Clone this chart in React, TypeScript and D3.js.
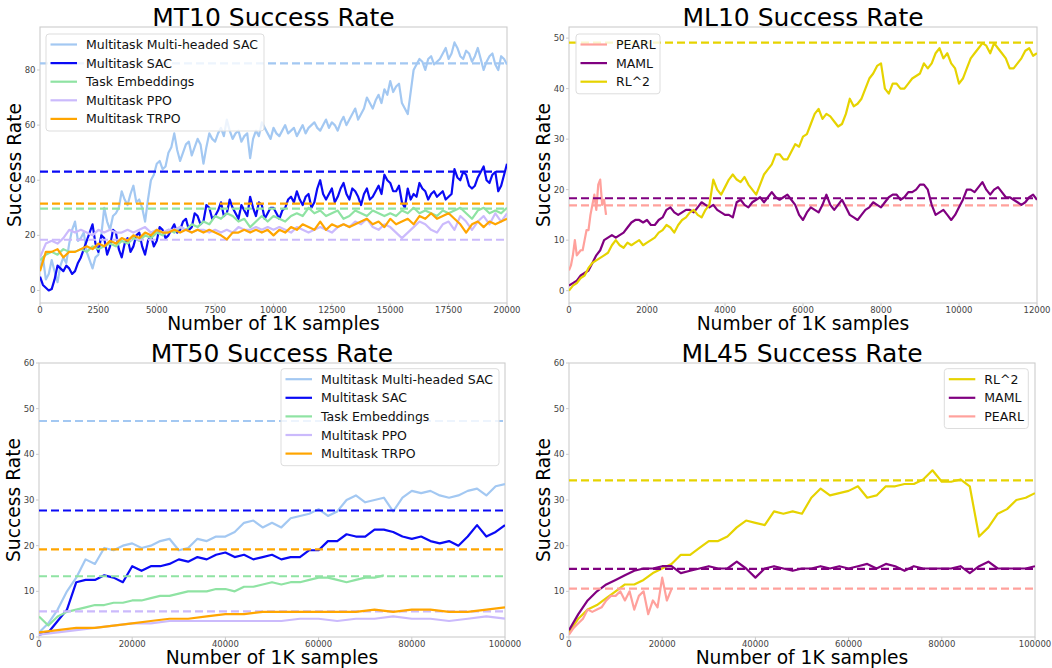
import React from "react";
import * as d3 from "d3";

const FONT = "'DejaVu Sans', Verdana, sans-serif";

// ---------- MT10 ----------
const mt10Names = ["Multitask Multi-headed SAC", "Multitask SAC", "Task Embeddings", "Multitask PPO", "Multitask TRPO"];
const mt10Colors = ["#a3c8f2", "#0a0af5", "#8fe3a3", "#cbbafc", "#ffa500"];
const mt10Final = [82.4, 43.1, 29.7, 18.4, 31.5];
const mt10XTicks = [0, 2500, 5000, 7500, 10000, 12500, 15000, 17500, 20000];
const mt10YTicks = [0, 20, 40, 60, 80];
const mt10MhSac = [8, 12, 4, 6, 11, 7, 3, 9, 12, 10, 17, 22, 25, 18, 19, 21, 14, 11, 8, 12, 13, 20, 30, 25, 22, 27, 28, 30, 36, 33, 31, 35, 38, 32, 33, 30, 25, 33, 40, 42, 46, 47, 44, 45, 50, 52, 57, 51, 47, 50, 53, 54, 49, 52, 55, 53, 46, 52, 57, 55, 54, 57, 59, 56, 62, 58, 55, 57, 58, 54, 56, 57, 48, 55, 58, 56, 61, 59, 57, 55, 59, 57, 56, 58, 60, 57, 58, 59, 56, 58, 60, 57, 59, 60, 61, 59, 58, 60, 62, 59, 61, 60, 58, 61, 63, 60, 62, 64, 66, 62, 64, 66, 70, 68, 66, 69, 71, 68, 73, 71, 76, 72, 74, 75, 68, 66, 64, 72, 80, 82, 84, 83, 80, 84, 85, 82, 83, 84, 86, 88, 84, 86, 90, 88, 85, 84, 87, 86, 83, 85, 88, 84, 80, 83, 85, 86, 82, 80, 85, 84, 82];
const mt10Sac = [5, 2, 1, 0, 0.5, 4, 9, 8, 7, 9, 8, 6, 7, 10, 12, 15, 18, 21, 24, 17, 14, 20, 19, 13, 16, 22, 21, 15, 12, 17, 19, 14, 16, 20, 21, 16, 13, 18, 20, 16, 18, 23, 22, 19, 20, 22, 24, 21, 22, 25, 26, 22, 23, 28, 27, 24, 25, 31, 30, 26, 27, 29, 32, 27, 28, 33, 30, 28, 26, 31, 29, 27, 34, 30, 27, 32, 31, 26, 28, 30, 30, 28, 26, 29, 30, 33, 34, 32, 36, 33, 31, 34, 35, 30, 32, 37, 40, 35, 33, 35, 37, 32, 34, 37, 39, 35, 33, 37, 36, 34, 31, 35, 37, 33, 34, 36, 38, 35, 42, 40, 39, 36, 36, 38, 32, 30, 37, 33, 35, 34, 39, 37, 36, 33, 35, 36, 34, 35, 36, 33, 34, 35, 44, 41, 40, 43, 42, 38, 37, 38, 41, 43, 45, 40, 39, 42, 43, 36, 38, 42, 46];
const mt10TaskEmb = [11, 13, 14, 13, 15, 14, 14, 15, 14, 16, 15, 16, 17, 16, 18, 17, 19, 18, 20, 19, 21, 20, 22, 21, 23, 22, 24, 23, 25, 24, 27, 26, 28, 27, 25, 26, 23, 25, 27, 25, 27, 26, 25, 27, 28, 27, 30, 28, 29, 27, 28, 29, 26, 27, 29, 28, 27, 29, 28, 27, 28, 27, 29, 28, 30, 28, 29, 28, 27, 29, 28, 29, 30, 28, 26, 29, 30, 28, 29, 28, 30];
const mt10Ppo = [12, 17, 18, 17, 19, 22, 21, 22, 21, 20, 22, 21, 22, 21, 21, 22, 21, 22, 23, 21, 22, 21, 22, 22, 23, 22, 21, 22, 22, 21, 22, 21, 22, 21, 23, 22, 22, 23, 22, 23, 22, 23, 22, 21, 23, 22, 21, 22, 23, 22, 21, 23, 24, 23, 25, 24, 26, 23, 22, 24, 23, 21, 19, 21, 23, 25, 24, 22, 21, 24, 25, 22, 27, 25, 22, 25, 27, 24, 28, 25, 28];
const mt10Trpo = [7, 14, 14, 15, 12, 14, 14, 15, 16, 15, 17, 16, 18, 17, 19, 18, 20, 19, 21, 20, 22, 21, 21, 22, 21, 22, 21, 22, 21, 22, 21, 20, 18.5, 21, 21, 22, 21, 22, 21, 22, 20, 22, 21, 23, 22, 24, 23, 22, 25, 22, 24, 23, 24, 23, 24, 25, 26, 24, 25, 23, 26, 24, 25, 26, 24, 27, 26, 28, 26, 27, 28, 26, 24, 21, 24, 25, 23, 25, 24, 25, 26];

// ---------- ML10 ----------
const ml10Names = ["PEARL", "MAML", "RL^2"];
const ml10Colors = ["#ffa19c", "#800080", "#e6d300"];
const ml10Final = [16.9, 18.3, 49.1];
const ml10XTicks = [0, 2000, 4000, 6000, 8000, 10000, 12000];
const ml10YTicks = [0, 10, 20, 30, 40, 50];
const ml10Pearl = [4, 5, 7, 10, 7, 7.5, 8, 8, 10, 12, 12, 15, 17, 19, 16, 21, 22, 17, 18, 15];
const ml10Maml = [1, 1.5, 2, 3, 3.5, 4, 5.5, 7, 8, 10, 10.5, 11, 10.5, 11, 11.5, 12.5, 13.5, 14, 14, 13.5, 14, 13, 13, 14, 14.5, 16, 16.5, 15.5, 15, 15.5, 16, 16, 15.5, 16.5, 17.5, 17, 16.5, 17, 16, 15.5, 15, 15, 14.5, 17.5, 18, 17, 16.5, 17.5, 18, 18.5, 17.5, 18.5, 19.5, 18.5, 18, 18.5, 19, 18, 17, 15, 14, 15.5, 16.5, 16, 15.5, 17, 19, 17, 16, 17, 18, 16.5, 15, 14.5, 14, 15, 16, 16.5, 17.5, 17, 16.5, 17.5, 18.5, 19, 19, 18, 18.5, 19.5, 19.5, 20, 21, 21, 20, 17, 15, 15.5, 16, 15, 14, 15, 16.5, 18, 20, 20, 19.5, 20.5, 21.5, 20, 19, 20, 20.5, 19.5, 18.5, 18.5, 18, 17.5, 17, 17.5, 18.5, 19, 18];
const ml10Rl2 = [0, 1, 1.5, 2.5, 3, 4.5, 5.5, 6, 6.5, 7, 7.5, 9, 10, 9, 8.5, 9.5, 9, 9.5, 10, 9, 9.5, 10, 10.5, 11.5, 12, 13, 12.5, 11.5, 13, 14, 14.5, 15.5, 16, 15, 14.5, 16, 17, 22, 20, 19, 20.5, 22, 23, 22, 21.5, 22.5, 21, 20, 19, 21, 23, 24, 25, 27, 27, 26, 26, 27.5, 29, 28.5, 30.5, 31, 33, 35, 36, 34, 35, 34.5, 33.5, 32.5, 33, 35, 38, 36.5, 37, 38, 40, 42, 43, 44.5, 45, 40, 39, 41, 41, 40, 40, 41, 42, 42.5, 43, 45, 44, 45, 47, 48, 46, 47, 45, 44, 41, 42, 44, 46, 47, 48, 49, 48.5, 47, 49, 48, 47, 46, 44, 44, 45, 46, 47.5, 48, 46.5, 47];

// ---------- MT50 ----------
const mt50Final = [47.3, 27.7, 13.3, 5.6, 19.2];
const mt50XTicks = [0, 20000, 40000, 60000, 80000, 100000];
const mt50YTicks = [0, 10, 20, 30, 40, 50, 60];
const mt50MhSac = [1, 3, 6, 10, 13, 17, 16, 19.5, 19, 20, 20.5, 19.5, 20, 21, 21.5, 19, 19.5, 21.5, 21, 22, 22, 23, 25, 25.5, 24, 25, 24, 26, 26.5, 27, 28, 26.5, 27.5, 30, 31, 29.5, 30, 30.5, 27.5, 30.5, 32, 31.5, 32, 31, 30.5, 31, 32, 32.5, 31, 33, 33.5];
const mt50Sac = [0.5, 1, 3.5, 6, 12, 12.5, 12.5, 13.5, 13, 12, 15.5, 14.5, 15.5, 15.5, 16, 17, 16.5, 17.5, 17, 18, 18.5, 17.5, 18, 17, 17.5, 18, 17, 17.5, 17.5, 19, 19, 21, 21, 22.5, 22, 22, 23.5, 23.5, 23, 22, 21.5, 22, 21, 20.5, 21, 20, 22, 24.5, 22, 23, 24.5];
const mt50TaskEmb = [4.5, 2.5, 4.5, 5.5, 6, 6.5, 7, 7, 7.5, 7.5, 8, 8, 8.5, 9, 9, 9.5, 10, 10, 10, 10.5, 10.5, 10, 11, 11, 11.5, 12, 11.5, 12, 12, 12.5, 13, 13, 12.5, 12, 12.5, 13, 13, 13.5];
const mt50Ppo = [0.5, 1, 1.5, 2, 2.5, 3, 3, 3.5, 3.5, 3.5, 3.5, 3.5, 3.5, 3.5, 4, 4, 3.5, 4, 4, 4.5, 4, 4, 3.5, 4, 4.5, 4];
const mt50Trpo = [1, 1.5, 2, 2, 2.5, 3, 3.5, 4, 4, 4.5, 5, 5, 5.5, 5.5, 5.5, 5.5, 5.5, 5.5, 6, 5.5, 6, 6, 5.5, 5.5, 6, 6.5];

// ---------- ML45 ----------
const ml45Names = ["RL^2", "MAML", "PEARL"];
const ml45Colors = ["#e6d300", "#800080", "#ffa19c"];
const ml45Final = [34.3, 14.9, 10.6];
const ml45XTicks = [0, 20000, 40000, 60000, 80000, 100000];
const ml45YTicks = [0, 10, 20, 30, 40, 50, 60];
const ml45Rl2 = [1, 4, 6, 7, 8.5, 10, 11.5, 11.5, 12.5, 14, 15, 16, 18, 18, 19.5, 21, 21, 22, 24, 25.5, 25, 24.5, 27.5, 27, 27.5, 27, 30.5, 32.5, 31, 31.5, 32, 33, 30.5, 31, 33, 33, 33.5, 33.5, 34.5, 36.5, 34, 34, 34.5, 33, 22, 24, 27, 28, 30, 30.5, 31.5];
const ml45Maml = [1.5, 5, 8, 10, 11.5, 12.5, 13.5, 14.5, 15, 15, 15.5, 15.5, 14, 14.5, 15, 15.5, 15, 15, 16.5, 15, 13, 15, 15.5, 15, 14.5, 15, 15, 15.5, 15, 15.5, 15, 15.5, 16, 15, 16, 15.5, 14.5, 15.5, 15, 15, 15, 15, 15.5, 14, 15.5, 16.5, 15, 15, 15, 15, 15.5];
const ml45Pearl = [0.5, 2, 3, 4, 6, 5.5, 6, 6.5, 8, 9, 9, 10, 8, 10, 6, 9, 10, 5, 8, 6.5, 13, 8, 10.5];

type Series = { name: string; color: string; values: number[]; xEnd: number; final: number };
type Panel = {
  title: string;
  left: number; right: number; top: number; bottom: number;
  xMax: number; yDomain: [number, number];
  xTicks: number[]; yTicks: number[];
  series: Series[];
  legend: { x: number; y: number; w: number };
};

const mk = (names: string[], colors: string[], vals: number[][], ends: number[], finals: number[]): Series[] =>
  names.map((n, i) => ({ name: n, color: colors[i], values: vals[i], xEnd: ends[i], final: finals[i] }));

const panels: Panel[] = [
  {
    title: "MT10 Success Rate", left: 40, right: 507, top: 27, bottom: 303,
    xMax: 20000, yDomain: [-4.55, 95.6], xTicks: mt10XTicks, yTicks: mt10YTicks,
    series: mk(mt10Names, mt10Colors, [mt10MhSac, mt10Sac, mt10TaskEmb, mt10Ppo, mt10Trpo],
      [20000, 20000, 20000, 20000, 20000], mt10Final),
    legend: { x: 46, y: 34, w: 218 },
  },
  {
    title: "ML10 Success Rate", left: 569, right: 1037, top: 27, bottom: 303,
    xMax: 12000, yDomain: [-2.44, 52.2], xTicks: ml10XTicks, yTicks: ml10YTicks,
    series: mk(ml10Names, ml10Colors, [ml10Pearl, ml10Maml, ml10Rl2], [950, 12000, 12000], ml10Final),
    legend: { x: 576, y: 34, w: 84 },
  },
  {
    title: "MT50 Success Rate", left: 39, right: 505, top: 363, bottom: 637,
    xMax: 100000, yDomain: [0, 60], xTicks: mt50XTicks, yTicks: mt50YTicks,
    series: mk(mt10Names, mt10Colors, [mt50MhSac, mt50Sac, mt50TaskEmb, mt50Ppo, mt50Trpo],
      [100000, 100000, 74000, 100000, 100000], mt50Final),
    legend: { x: 281, y: 368.7, w: 218 },
  },
  {
    title: "ML45 Success Rate", left: 569, right: 1035, top: 363, bottom: 637,
    xMax: 100000, yDomain: [0, 60], xTicks: ml45XTicks, yTicks: ml45YTicks,
    series: mk(ml45Names, ml45Colors, [ml45Rl2, ml45Maml, ml45Pearl], [100000, 100000, 22000], ml45Final),
    legend: { x: 944.3, y: 368.7, w: 84 },
  },
];

function PanelView({ p, idx }: { p: Panel; idx: number }) {
  const x = d3.scaleLinear().domain([0, p.xMax]).range([p.left, p.right]);
  const y = d3.scaleLinear().domain(p.yDomain).range([p.bottom, p.top]);
  const cx = (p.left + p.right) / 2;
  const cy = (p.top + p.bottom) / 2;
  const clipId = `clip${idx}`;
  const rowH = 18.6;
  return (
    <g>
      <defs>
        <clipPath id={clipId}>
          <rect x={p.left} y={p.top} width={p.right - p.left} height={p.bottom - p.top} />
        </clipPath>
      </defs>
      <rect x={p.left} y={p.top} width={p.right - p.left} height={p.bottom - p.top} fill="#fff" stroke="#cccccc" strokeWidth={1.1} />
      {p.xTicks.map((t) => (
        <g key={"x" + t}>
          <line x1={x(t)} x2={x(t)} y1={p.bottom} y2={p.bottom + 3} stroke="#cccccc" />
          <text x={x(t)} y={p.bottom + 10} fontSize={8.5} fill="#444" textAnchor="middle" fontFamily={FONT}>{t}</text>
        </g>
      ))}
      {p.yTicks.map((t) => (
        <g key={"y" + t}>
          <line x1={p.left - 3} x2={p.left} y1={y(t)} y2={y(t)} stroke="#cccccc" />
          <text x={p.left - 4.5} y={y(t)} dy="0.34em" fontSize={8.5} fill="#444" textAnchor="end" fontFamily={FONT}>{t}</text>
        </g>
      ))}
      <g clipPath={`url(#${clipId})`}>
        {p.series.map((s) => {
          const n = s.values.length;
          const pts: [number, number][] = s.values.map((v, i) => [(i * s.xEnd) / (n - 1), v]);
          const line = d3.line<[number, number]>().x((d) => x(d[0])).y((d) => y(d[1]));
          return (
            <g key={s.name}>
              <path d={line(pts) || ""} fill="none" stroke={s.color} strokeWidth={2.2} strokeLinejoin="round" />
              <line x1={p.left} x2={p.right} y1={y(s.final)} y2={y(s.final)} stroke={s.color} strokeWidth={2.2} strokeDasharray="8,4" />
            </g>
          );
        })}
      </g>
      <text x={cx} y={p.top - 1} fontSize={25} textAnchor="middle" fontFamily={FONT} fill="#000">{p.title}</text>
      <text x={cx} y={p.bottom + 27} fontSize={18.7} textAnchor="middle" fontFamily={FONT} fill="#000">Number of 1K samples</text>
      <text transform={`translate(${p.left - 19},${cy}) rotate(-90)`} fontSize={18.7} textAnchor="middle" fontFamily={FONT} fill="#000">Success Rate</text>
      <g>
        <rect x={p.legend.x} y={p.legend.y} width={p.legend.w} height={p.series.length * rowH + 4} rx={3} fill="#fff" fillOpacity={0.8} stroke="#dddddd" strokeWidth={1} />
        {p.series.map((s, i) => {
          const ry = p.legend.y + 10.5 + i * rowH;
          return (
            <g key={"lg" + s.name}>
              <line x1={p.legend.x + 4.5} x2={p.legend.x + 31} y1={ry} y2={ry} stroke={s.color} strokeWidth={2.2} />
              <text x={p.legend.x + 40} y={ry} dy="0.36em" fontSize={12.5} fontFamily={FONT} fill="#111">{s.name}</text>
            </g>
          );
        })}
      </g>
    </g>
  );
}

export default function App() {
  return (
    <svg width={1052} height={668} style={{ position: "absolute", left: 0, top: 0, background: "#fff" }}>
      <rect x={0} y={0} width={1052} height={668} fill="#fff" />
      {panels.map((p, i) => (
        <PanelView key={p.title} p={p} idx={i} />
      ))}
    </svg>
  );
}
